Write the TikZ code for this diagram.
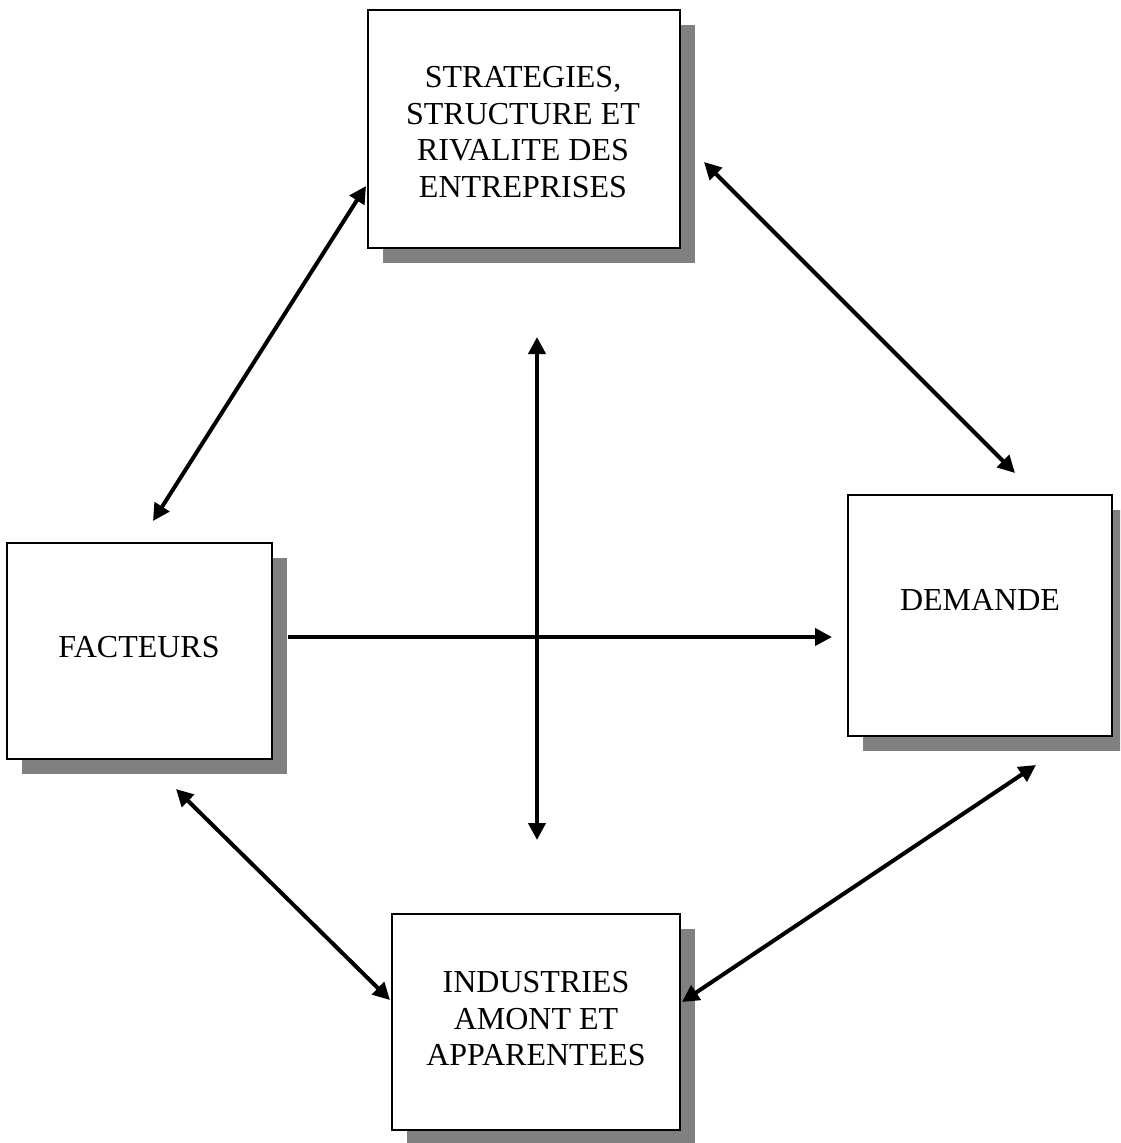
\documentclass[tikz,border=0pt]{standalone}
\usepackage{fontspec}
\setmainfont{Liberation Serif}
\usetikzlibrary{arrows.meta,shadows}
\definecolor{shadowgray}{HTML}{808080}
\begin{document}
\begin{tikzpicture}[x=1pt,y=-1pt,
  box/.style={draw=black, line width=2.5pt, fill=white, inner sep=0pt,
    drop shadow={shadow xshift=15pt, shadow yshift=-15pt, fill=shadowgray, opacity=1}},
  lbl/.style={font=\fontsize{32}{36.5}\selectfont, align=center, inner sep=0pt},
  link/.style={line width=4pt, {Triangle[length=17pt,width=17pt]}-{Triangle[length=17pt,width=17pt]}},
  onelink/.style={line width=4pt, -{Triangle[length=17pt,width=17pt]}}]
\useasboundingbox (0,0) rectangle (1120,1143);
\begin{scope}
\clip (0,0) rectangle (1120,1143);
\node[box, minimum width=312pt, minimum height=238pt] (strat) at (524,129) {};
\node[box, minimum width=265pt, minimum height=216pt] (fact) at (139.5,651) {};
\node[box, minimum width=264pt, minimum height=241pt] (dem) at (980,615.5) {};
\node[box, minimum width=288pt, minimum height=216pt] (ind) at (536,1022) {};
\end{scope}
\node[lbl] (stratT) at (523,132) {STRATEGIES,\\STRUCTURE ET\\RIVALITE DES\\ENTREPRISES};
\node[lbl] (factT) at (139,647) {FACTEURS};
\node[lbl] (demT) at (980,600) {DEMANDE};
\node[lbl] (indT) at (536,1019) {INDUSTRIES\\AMONT ET\\APPARENTEES};
% connector end points
\coordinate (a1) at (366,186);
\coordinate (a2) at (153,521);
\coordinate (b1) at (704,162);
\coordinate (b2) at (1015,473);
\coordinate (c1) at (537,337);
\coordinate (c2) at (537,840);
\coordinate (d1) at (288,637);
\coordinate (d2) at (832,637);
\coordinate (e1) at (176,789);
\coordinate (e2) at (390,1000);
\coordinate (f1) at (1036,765);
\coordinate (f2) at (682,1002);
\draw[link] (a1) -- (a2);
\draw[link] (b1) -- (b2);
\draw[link] (c1) -- (c2);
\draw[onelink] (d1) -- (d2);
\draw[link] (e1) -- (e2);
\draw[link] (f1) -- (f2);
\end{tikzpicture}
\end{document}
